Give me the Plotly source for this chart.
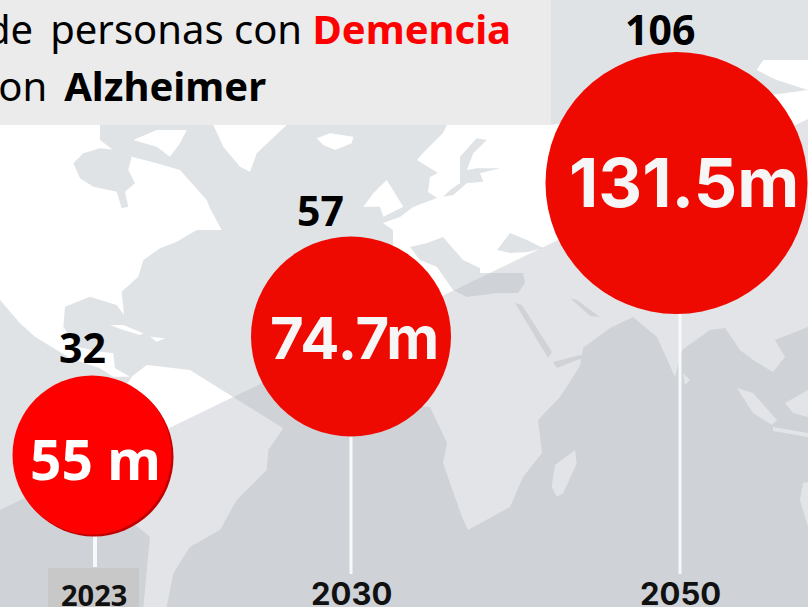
import plotly.graph_objects as go

# ---- data ----
years = ["2023", "2030", "2050"]
dementia_millions = [55, 74.7, 131.5]
alzheimer_millions = [32, 57, 106]
bubble_labels = ["55 m", "74.7m", "131.5m"]

# ---- page layout (pixels on an 808x607 axis pair) ----
W, H = 808, 607
CX = [92, 351, 676.5]
CY = [455, 336.5, 183]
DIAM = [159, 200, 262]
STEM_X = [95, 351, 680]
STEM_END = [567, 574, 574]
SEA = "#e0e3e6"
LAND = "#ffffff"
z4 = lambda p: [(x / 3, y / 3 + 120) for x, y in p]
z5 = lambda p: [(x / 3 + 280, y / 3 + 120) for x, y in p]
z2 = lambda p: [(x / 3, y / 3 + 330) for x, y in p]
z3 = lambda p: [(x / 3 + 400, y / 3) for x, y in p]
z6 = lambda p: [(x / 3 + 400, y / 3 + 300) for x, y in p]


def path(p):
    return "M " + " L ".join(f"{x:.1f},{y:.1f}" for x, y in p) + " Z"


land_shapes = [
    z4([(0, 15), (300, 15), (300, 60), (340, 90), (395, 110), (470, 130), (540, 150), (620, 240), (630, 265), (665, 330),
        (590, 330), (530, 365), (480, 385), (430, 420), (415, 470), (365, 515), (372, 585), (350, 555), (270, 530),
        (195, 560), (190, 620), (230, 680), (300, 695), (340, 700), (345, 745), (390, 770), (340, 770), (300, 745),
        (210, 715), (105, 650), (60, 610), (0, 540)]),
    z4([(400, 60), (470, 30), (560, 30), (540, 70), (510, 110), (470, 80)]),
    z4([(640, 15), (860, 15), (770, 100), (750, 155), (720, 140), (670, 80)]),
    z4([(330, 615), (370, 615), (430, 640), (420, 645), (370, 630)]),
    z4([(450, 650), (495, 655), (470, 665)]),
    z2([(395, 140), (440, 105), (570, 120), (690, 195), (850, 295), (805, 360), (800, 420), (710, 510), (660, 600),
        (570, 650), (520, 730), (500, 831), (430, 831), (450, 620), (300, 500), (300, 300)]),
    # Eurasia and Africa
    [(447, 125), (550, 125), (808, 90), (808, 327), (775, 340), (785, 357), (773, 372), (753, 360), (740, 350),
     (725, 328), (710, 330), (682, 350), (675, 377), (657, 337), (633, 317), (610, 328), (583, 348), (580, 366),
     (560, 397), (538, 420), (542, 453), (523, 477), (510, 507), (468, 530), (462, 517), (443, 463), (447, 443),
     (430, 407), (350, 400), (380, 290), (393, 250), (393, 230), (383, 223), (400, 217), (413, 207), (437, 198),
     (428, 192), (430, 177), (438, 173), (417, 160), (423, 153), (443, 133)],
    z5([(250, 260), (280, 220), (320, 180), (370, 260), (310, 290), (300, 260)]),
    z5([(110, 55), (150, 40), (220, 50), (215, 70), (165, 90), (130, 75)]),
    z3([(1224, 180), (1090, 180), (1070, 210), (1130, 240), (1224, 270)]),
    z6([(525, 450), (530, 490), (490, 580), (470, 590), (455, 560), (465, 495)]),
    [(683, 373), (690, 380), (685, 385)],
    [(737, 388), (753, 393), (777, 420), (772, 425), (753, 413)],
    [(773, 427), (808, 433), (808, 437), (773, 431)],
    [(785, 403), (808, 390), (808, 417), (793, 413)],
    [(803, 483), (808, 482), (808, 527), (800, 500)],
]
sea_shapes = [
    z4([(220, 130), (250, 100), (300, 85), (350, 90), (395, 110), (385, 150), (405, 190), (375, 215), (385, 260),
        (365, 265), (350, 215), (280, 200), (240, 175)]),
    z5([(590, 55), (620, 60), (580, 100), (560, 150), (590, 145), (660, 145), (600, 160), (610, 185), (560, 190),
        (520, 225), (490, 230), (510, 210), (540, 190), (540, 110)]),
    [(410, 247), (427, 243), (443, 237), (463, 260), (480, 268), (480, 273), (523, 273), (525, 283), (518, 293),
     (497, 293), (467, 297), (453, 290), (437, 267), (420, 260)],
    [(497, 250), (510, 233), (527, 240), (543, 248), (528, 252), (510, 253)],
    [(515, 303), (522, 305), (552, 352), (548, 358)],
    [(553, 362), (580, 355), (585, 357), (557, 368)],
    [(570, 298), (577, 300), (600, 317), (590, 316)],
]

shapes = []
for p in land_shapes:
    shapes.append(dict(type="path", path=path(p), fillcolor=LAND, line_width=0, layer="below"))
for p in sea_shapes:
    shapes.append(dict(type="path", path=path(p), fillcolor=SEA, line_width=0, layer="below"))
shapes.append(dict(type="path", path=path([(0, 510), (808, 119), (808, 607), (0, 607)]),
                   fillcolor="rgba(180,186,192,0.387)", line_width=0, layer="below"))
shapes.append(dict(type="rect", x0=0, y0=0, x1=551, y1=125, fillcolor="#ebebeb", line_width=0, layer="below"))
shapes.append(dict(type="rect", x0=48, y0=568, x1=139, y1=607, fillcolor="#c8c8c8", line_width=0, layer="below"))

fig = go.Figure()

for i in range(3):
    fig.add_trace(go.Scatter(x=[STEM_X[i], STEM_X[i]], y=[CY[i], STEM_END[i]], mode="lines",
                             line=dict(color="#f8f9fa", width=4 if i == 0 else 3), hoverinfo="skip"))

# drop shadow of the first bubble
fig.add_trace(go.Scatter(x=[CX[0] + 2], y=[CY[0] + 2], mode="markers",
                         marker=dict(size=DIAM[0], color="#c00000", line_width=0), hoverinfo="skip"))

bubble_fonts = ["Noto Sans", "Inter", "Inter"]
bubble_sizes = [55, 58, 68]
bubble_cols = ["#ff0000", "#ee0a00", "#ee0a00"]
text_cols = ["#ffffff", "#f6f6f6", "#f6f6f6"]
for i in range(3):
    fig.add_trace(go.Scatter(
        x=[CX[i]], y=[CY[i]], mode="markers",
        customdata=[dementia_millions[i]],
        marker=dict(size=DIAM[i], color=bubble_cols[i], line_width=0),
        hovertemplate="%{customdata} m<extra></extra>"))

LABEL_X = [95, 354, 684]
LABEL_Y = [458, 338, 182]
for i in range(3):
    fig.add_annotation(x=LABEL_X[i], y=LABEL_Y[i], text=f"<b>{bubble_labels[i]}</b>", showarrow=False,
                       font=dict(family=bubble_fonts[i], size=bubble_sizes[i], color=text_cols[i]))

NUM_X = [82, 320, 660]
NUM_Y = [347, 210, 29]
for i in range(3):
    fig.add_annotation(x=NUM_X[i], y=NUM_Y[i], text=f"<b>{alzheimer_millions[i]}</b>", showarrow=False,
                       font=dict(family="Noto Sans", size=41, color="#000000"))

YEAR_Y = [594, 593, 593]
YEAR_FONT = ["Noto Sans", "Inter", "Inter"]
YEAR_SIZE = [29, 31, 31]
for i in range(3):
    fig.add_annotation(x=[94, 351, 680][i], y=YEAR_Y[i], text=f"<b>{years[i]}</b>", showarrow=False,
                       font=dict(family=YEAR_FONT[i], size=YEAR_SIZE[i], color="#111111"))

fig.add_annotation(x=513, y=28, xanchor="right", showarrow=False,
                   text='de\u2009 personas con <b><span style="color:#ff0000">Demencia</span></b>',
                   font=dict(family="Noto Sans", size=40, color="#000000"))
fig.add_annotation(x=268, y=85, xanchor="right", showarrow=False,
                   text="con\u2009 <b>Alzheimer</b>",
                   font=dict(family="Noto Sans", size=40, color="#000000"))

fig.update_layout(
    width=W, height=H, margin=dict(l=0, r=0, t=0, b=0), autosize=False,
    paper_bgcolor=SEA, plot_bgcolor=SEA, showlegend=False, shapes=shapes,
    xaxis=dict(range=[0, W], visible=False, fixedrange=True),
    yaxis=dict(range=[H, 0], visible=False, fixedrange=True),
)
fig.write_html("out.html", config={"displayModeBar": False},
               post_script="document.body.style.margin='0';document.body.style.overflow='hidden';")
